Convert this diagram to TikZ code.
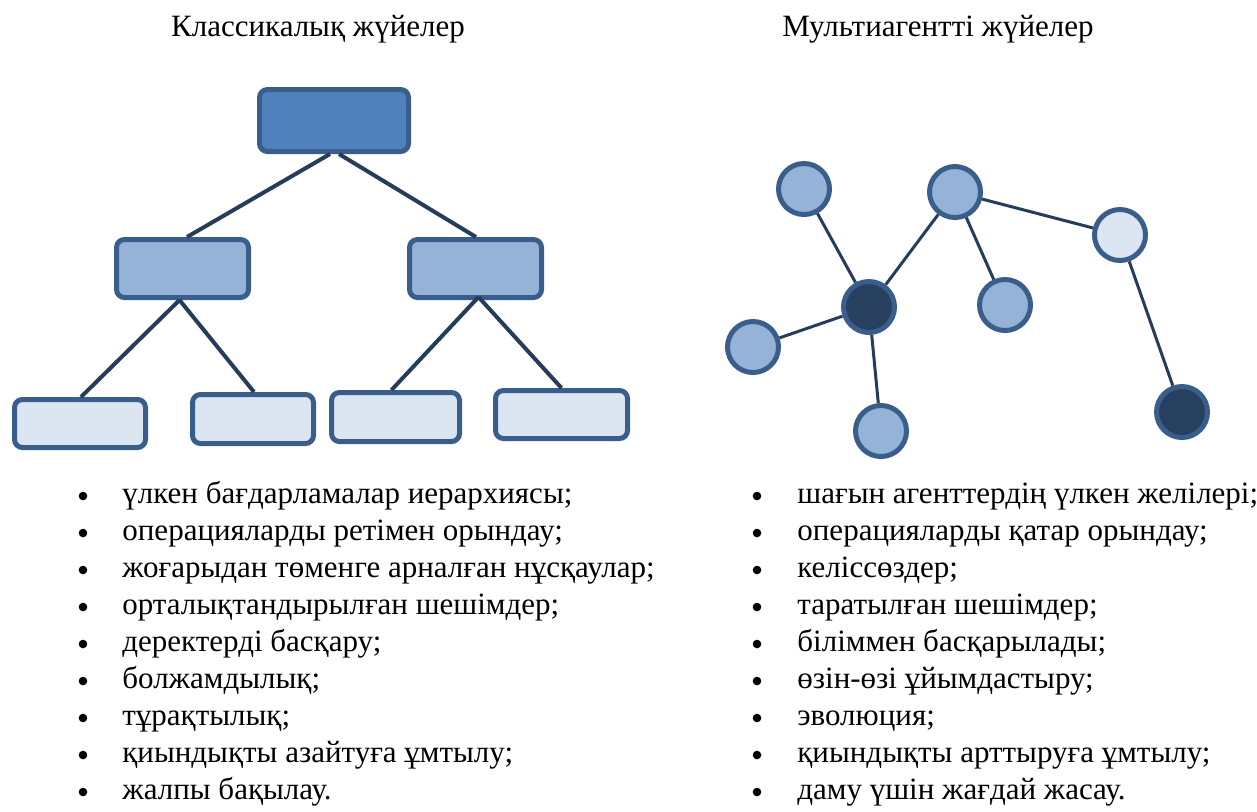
\documentclass[tikz,border=0pt]{standalone}
\usepackage{fontspec}
\setmainfont{Liberation Serif}
\usetikzlibrary{calc}
\definecolor{topfill}{HTML}{4F81BD}
\definecolor{midfill}{HTML}{95B3D7}
\definecolor{lowfill}{HTML}{DCE6F2}
\definecolor{darkfill}{HTML}{27405F}
\definecolor{bordercol}{HTML}{3A5E8C}
\definecolor{linkcol}{HTML}{253D5B}
\tikzset{
  box/.style={draw=bordercol, line width=2.5pt, rounded corners=4pt, inner sep=0pt},
  agent/.style={circle, draw=bordercol, line width=2.5pt, minimum size=25.5pt, inner sep=0pt},
  treelink/.style={draw=linkcol, line width=2pt},
  netlink/.style={draw=linkcol, line width=1.5pt},
  title/.style={font=\fontsize{15.5}{18}\selectfont, anchor=base, inner sep=0pt},
  item/.style={font=\fontsize{15.5}{18}\selectfont, anchor=base west, inner sep=0pt},
  dot/.style={circle, fill=black, minimum size=4.3pt, inner sep=0pt}
}
\begin{document}
\begin{tikzpicture}[x=0.5pt, y=-0.5pt]
\useasboundingbox (0,0) rectangle (1257,811);
% titles
\node[title] (t1) at (318,36) {Классикалық жүйелер};
\node[title] (t2) at (938,36) {Мультиагентті жүйелер};
% tree
\node[box, fill=topfill, minimum width=74.5pt, minimum height=31pt] (top) at (334,120.5) {};
\node[box, fill=midfill, minimum width=66pt, minimum height=29pt] (ml) at (182.5,268.5) {};
\node[box, fill=midfill, minimum width=66pt, minimum height=29pt] (mr) at (475.5,268.5) {};
\node[box, fill=lowfill, minimum width=65.5pt, minimum height=24pt] (b1) at (80,423.5) {};
\node[box, fill=lowfill, minimum width=60.5pt, minimum height=24.5pt] (b2) at (253,419) {};
\node[box, fill=lowfill, minimum width=64pt, minimum height=24.5pt] (b3) at (395.5,417) {};
\node[box, fill=lowfill, minimum width=66pt, minimum height=24pt] (b4) at (561.5,414.5) {};
\draw[treelink] ($(top.south)+(-4,0)$) -- ($(ml.north)+(4.5,0)$);
\draw[treelink] ($(top.south)+(5,0)$) -- ($(mr.north)+(0.5,0)$);
\draw[treelink] ($(ml.south)+(-3,0)$) -- ($(b1.north)+(1,0)$);
\draw[treelink] ($(ml.south)+(-3,0)$) -- ($(b2.north)+(1,0)$);
\draw[treelink] ($(mr.south)+(3,-3)$) -- ($(b3.north)+(-4,0)$);
\draw[treelink] ($(mr.south)+(3,-3)$) -- ($(b4.north)+(0,0)$);
% network
\node[agent, fill=midfill] (A) at (804,189) {};
\node[agent, fill=midfill] (B) at (955,192) {};
\node[agent, fill=lowfill] (C) at (1120,235) {};
\node[agent, fill=darkfill] (D) at (869,307) {};
\node[agent, fill=midfill] (E) at (1005,305) {};
\node[agent, fill=midfill] (F) at (753,347) {};
\node[agent, fill=midfill] (G) at (881,431) {};
\node[agent, fill=darkfill] (H) at (1182,412) {};
\draw[netlink] (A) -- (D);
\draw[netlink] (B) -- (D);
\draw[netlink] (B) -- (E);
\draw[netlink] (B) -- (C);
\draw[netlink] (C) -- (H);
\draw[netlink] (D) -- (F);
\draw[netlink] (D) -- (G);
% lists
\foreach \t [count=\i] in {үлкен бағдарламалар иерархиясы;,
  операцияларды ретімен орындау;,
  жоғарыдан төменге арналған нұсқаулар;,
  орталықтандырылған шешімдер;,
  деректерді басқару;,
  болжамдылық;,
  тұрақтылық;,
  қиындықты азайтуға ұмтылу;,
  жалпы бақылау.}{
  \node[dot] (ld\i) at (83,{503+37*(\i-1)-7}) {};
  \node[item] (lt\i) at (122,{503+37*(\i-1)}) {\t};
}
\foreach \t [count=\i] in {шағын агенттердің үлкен желілері;,
  операцияларды қатар орындау;,
  келіссөздер;,
  таратылған шешімдер;,
  біліммен басқарылады;,
  өзін-өзі ұйымдастыру;,
  эволюция;,
  қиындықты арттыруға ұмтылу;,
  даму үшін жағдай жасау.}{
  \node[dot] (rd\i) at (757,{503+37*(\i-1)-7}) {};
  \node[item] (rt\i) at (797,{503+37*(\i-1)}) {\t};
}
\end{tikzpicture}
\end{document}
